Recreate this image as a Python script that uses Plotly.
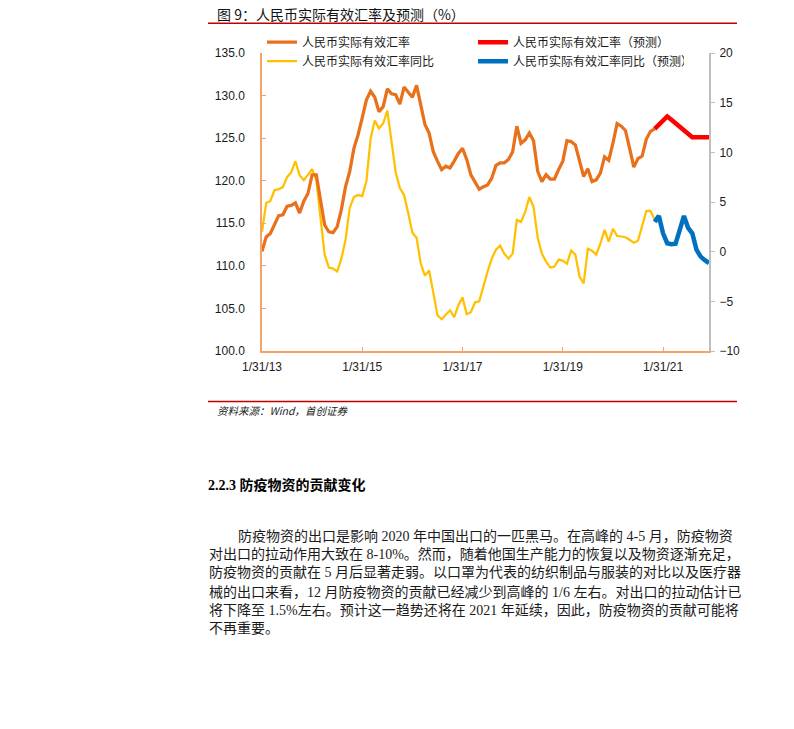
import plotly.graph_objects as go

# ---------------- data ----------------
# monthly index: 0 = Jan 2013 ... 107 = Dec 2021
reer_hist = [111.7, 113.4, 113.8, 114.8, 115.9, 116.0, 117.0, 117.1, 117.4, 116.2,
             117.6, 118.5, 120.7, 120.7, 117.8, 114.8, 114.0, 113.9, 114.6, 116.6,
             119.3, 121.1, 123.8, 125.4, 127.4, 129.5, 130.5, 129.8, 128.1, 128.7,
             130.8, 130.2, 130.1, 129.0, 131.0, 130.4, 129.8, 131.2, 128.9, 126.6,
             125.6, 123.4, 122.3, 121.3, 121.7, 121.5, 122.3, 123.2, 123.8, 122.5,
             120.7, 119.9, 119.0, 119.3, 119.5, 120.3, 121.8, 122.1, 122.1, 122.5,
             123.4, 126.4, 124.4, 124.8, 125.6, 124.7, 121.1, 119.9, 120.7, 120.2,
             120.2, 121.3, 122.3, 124.7, 124.6, 124.2, 122.5, 120.5, 121.4, 119.9,
             120.1, 120.9, 122.8, 122.4, 124.4, 126.7, 126.4, 125.9, 123.8, 121.6,
             122.6, 122.9, 124.9, 125.8, 126.1]
reer_fcst = [126.1, 126.6, 127.1, 127.55, 127.15, 126.75, 126.35, 125.95, 125.55,
             125.1, 125.1, 125.1, 125.1, 125.1]
yoy_hist = [2.0, 4.9, 5.1, 6.2, 6.3, 6.5, 7.5, 8.0, 9.1, 7.7,
            7.2, 7.7, 8.3, 7.2, 3.3, -0.3, -1.6, -1.7, -2.0, -0.7,
            1.2, 4.4, 5.5, 5.7, 5.6, 7.1, 11.4, 13.2, 12.4, 12.9,
            14.2, 11.3, 8.0, 6.4, 5.7, 3.9, 1.9, 1.4, -1.2, -2.4,
            -1.9, -4.1, -6.4, -6.8, -6.4, -5.9, -6.6, -5.4, -4.6, -6.3,
            -6.1, -5.1, -5.0, -3.4, -2.0, -0.7, 0.2, 0.6, -0.2, -0.7,
            -0.2, 3.2, 3.0, 4.0, 5.5, 4.5, 1.4, -0.2, -1.0, -1.6,
            -1.5, -0.8, -0.9, -1.2, 0.1, -0.3, -2.5, -3.2, 0.3, 0.1,
            -0.3, 0.8, 2.2, 1.0, 2.3, 1.6, 1.5, 1.45, 1.2, 0.9,
            1.1, 2.5, 4.1, 4.1, 3.2]
yoy_fcst = [3.0, 3.6, 1.85, 0.85, 0.75, 0.8, 2.2, 3.6, 2.4, 1.85, 0.2, -0.5, -0.85, -1.15]

hist_months = list(range(len(reer_hist)))
fcst_start = len(reer_hist) - 1
fcst_months = list(range(fcst_start, fcst_start + len(reer_fcst)))

tick_months = [0, 24, 48, 72, 96]
tick_labels = ["1/31/13", "1/31/15", "1/31/17", "1/31/19", "1/31/21"]

names = ["人民币实际有效汇率", "人民币实际有效汇率（预测）",
         "人民币实际有效汇率同比", "人民币实际有效汇率同比（预测）"]
colors = ["#E9711C", "#FF0000", "#FFC000", "#0070C0"]

title_text = "图 9：人民币实际有效汇率及预测（%）"
source_text = "资料来源：Wind，首创证券"
heading_text = "2.2.3 防疫物资的贡献变化"
body_lines = [
    "防疫物资的出口是影响 2020 年中国出口的一匹黑马。在高峰的 4-5 月，防疫物资",
    "对出口的拉动作用大致在 8-10%。然而，随着他国生产能力的恢复以及物资逐渐充足，",
    "防疫物资的贡献在 5 月后显著走弱。以口罩为代表的纺织制品与服装的对比以及医疗器",
    "械的出口来看，12 月防疫物资的贡献已经减少到高峰的 1/6 左右。对出口的拉动估计已",
    "将下降至 1.5%左右。预计这一趋势还将在 2021 年延续，因此，防疫物资的贡献可能将",
    "不再重要。",
]

# ---------------- page geometry ----------------
W, H = 794, 729
PL, PR, PT, PB = 262, 709, 53.3, 351.0


def px(x):
    return (x - PL) / (PR - PL)


def py(y):
    return (PB - y) / (PB - PT)


CJK = "Noto Sans CJK SC"
TICKFONT = dict(family="Liberation Sans, Arial, sans-serif", size=12, color="#1a1a1a")

fig = go.Figure()

# yoy lines on the right axis (base subplot), drawn first
fig.add_trace(go.Scatter(x=hist_months, y=yoy_hist, mode="lines", name=names[2],
                         line=dict(color=colors[2], width=2.25), yaxis="y",
                         legendrank=3))
fig.add_trace(go.Scatter(x=fcst_months, y=yoy_fcst, mode="lines", name=names[3],
                         line=dict(color=colors[3], width=4.5), yaxis="y",
                         legendrank=4))
# REER lines on the left axis (overlaying, drawn on top)
fig.add_trace(go.Scatter(x=hist_months, y=reer_hist, mode="lines", name=names[0],
                         line=dict(color=colors[0], width=3.25), yaxis="y2",
                         legendrank=1))
fig.add_trace(go.Scatter(x=fcst_months, y=reer_fcst, mode="lines", name=names[1],
                         line=dict(color=colors[1], width=4.5), yaxis="y2",
                         legendrank=2))

axis_orange = "#F4A46A"

fig.update_layout(
    width=W, height=H,
    margin=dict(l=PL, r=W - PR, t=PT, b=H - PB, pad=0),
    paper_bgcolor="white", plot_bgcolor="white",
    showlegend=True,
    legend=dict(orientation="h", x=0, xanchor="left", y=py(28), yanchor="top",
                font=dict(family=CJK, size=12, color="#1a1a1a"),
                entrywidth=166, entrywidthmode="pixels",
                bgcolor="rgba(0,0,0,0)", traceorder="normal", itemclick=False),
    xaxis=dict(range=[0, 107], tickmode="array", tickvals=tick_months, ticktext=tick_labels,
               showline=True, linecolor=axis_orange, linewidth=1.5,
               ticks="inside", ticklen=4, tickcolor=axis_orange, tickwidth=1,
               showgrid=False, zeroline=False, tickfont=TICKFONT, ticklabelstandoff=4),
    yaxis=dict(side="right", range=[-10, 20], dtick=5, tick0=0,
               showline=True, linecolor="#BFBFBF", linewidth=2,
               ticks="outside", ticklen=4, tickcolor="#BFBFBF",
               showgrid=False, zeroline=False, tickfont=TICKFONT, ticklabelstandoff=2),
    yaxis2=dict(side="left", overlaying="y", range=[100, 135], dtick=5, tick0=100,
                tickformat=".1f",
                showline=True, linecolor=axis_orange, linewidth=1.5,
                ticks="inside", ticklen=4, tickcolor=axis_orange,
                showgrid=False, zeroline=False, tickfont=TICKFONT, ticklabelstandoff=13),
)

annos = []
annos.append(dict(text=title_text, x=px(215), y=py(14), xanchor="left", yanchor="middle",
                  font=dict(family=CJK, size=14, color="#111111")))
annos.append(dict(text=source_text, x=px(215), y=py(410), xanchor="left", yanchor="middle",
                  font=dict(family=CJK, size=10.5, color="#222222", style="italic")))
annos.append(dict(text="<b>" + heading_text + "</b>", x=px(206), y=py(485), xanchor="left",
                  yanchor="middle",
                  font=dict(family="Liberation Serif, " + CJK, size=14, color="#000000")))
body_y0, body_dy = 535.5, 18.6
for i, line in enumerate(body_lines):
    x0 = 236 if i == 0 else 207
    annos.append(dict(text=line, x=px(x0), y=py(body_y0 + i * body_dy), xanchor="left",
                      yanchor="middle",
                      font=dict(family="Liberation Serif, " + CJK, size=14, color="#1a1a1a")))
for a in annos:
    a.update(xref="paper", yref="paper", showarrow=False)
fig.update_layout(annotations=annos)

rule = dict(type="line", xref="paper", yref="paper", line=dict(color="#C00000", width=1.5))
fig.add_shape(**rule, x0=px(208), x1=px(737), y0=py(23.5), y1=py(23.5))
fig.add_shape(**rule, x0=px(208), x1=px(737), y0=py(401.5), y1=py(401.5))

fig.write_html("out.html")
